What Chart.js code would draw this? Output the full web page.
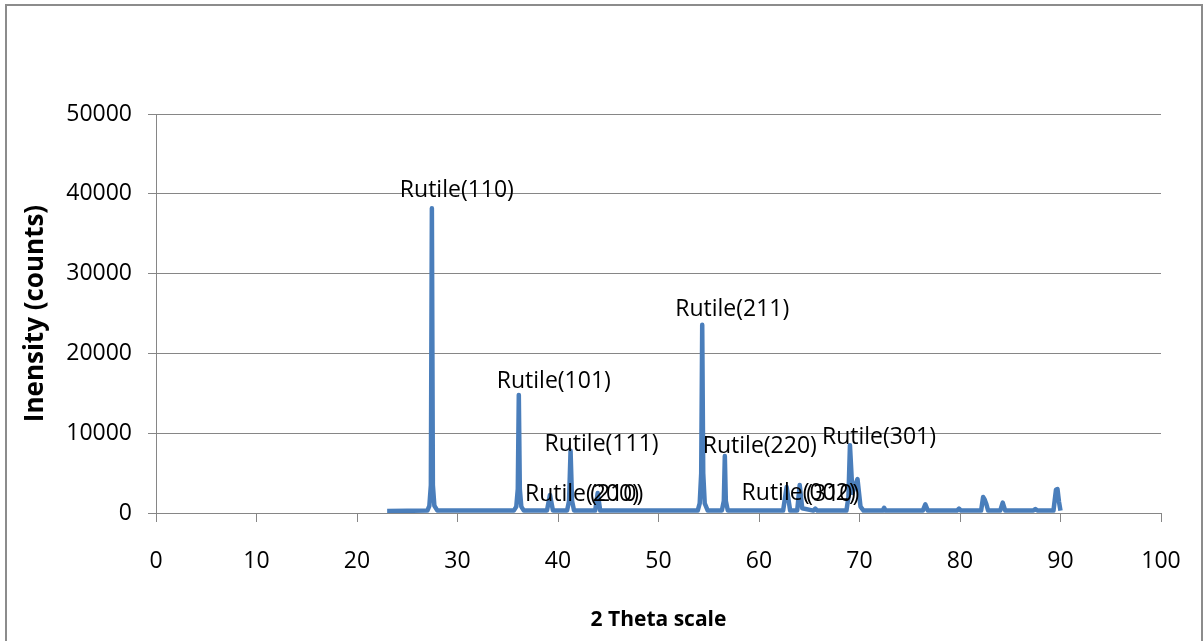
<!DOCTYPE html>
<html>
<head>
<meta charset="utf-8">
<script src="https://cdn.jsdelivr.net/npm/chart.js@4.4.1/dist/chart.umd.min.js"></script>
<style>
  html, body { margin: 0; padding: 0; background: #fff; }
  #wrap { position: relative; width: 1203px; height: 641px; overflow: hidden; }
  #frame { position: absolute; left: 5px; top: 4px; width: 1198px; height: 700px;
           border: 2px solid #8c8c8c; box-sizing: border-box; pointer-events: none; }
</style>
</head>
<body>
<div id="wrap">
  <canvas id="xrd" width="1203" height="641"></canvas>
  <div id="frame"></div>
</div>
<script>
// XRD pattern, 2 theta vs intensity
const twoTheta = [
  23.0, 27.0, 27.2, 27.35, 27.45, 27.55, 27.7, 28.0,
  35.6, 35.85, 36.0, 36.1, 36.2, 36.35, 36.6,
  38.9, 39.2, 39.5,
  40.9, 41.1, 41.25, 41.4, 41.6,
  43.7, 43.95, 44.2,
  53.9, 54.1, 54.25, 54.35, 54.45, 54.6, 54.9,
  56.3, 56.5, 56.6, 56.7, 56.9,
  62.4, 62.75, 63.1,
  63.8, 64.05, 64.3,
  65.4, 65.6, 65.8,
  68.7, 68.9, 69.05, 69.3, 69.8, 70.1, 70.4,
  72.3, 72.45, 72.6,
  76.3, 76.55, 76.8,
  79.7, 79.9, 80.1,
  82.1, 82.3, 82.45, 82.6, 82.8,
  84.0, 84.25, 84.5,
  87.3, 87.5, 87.7,
  89.3, 89.55, 89.7, 89.85, 90.0
];
const counts = [
  250, 300, 900, 3500, 38200, 3500, 900, 300,
  300, 800, 3000, 14800, 3000, 800, 300,
  300, 2250, 300,
  300, 1500, 7800, 1500, 300,
  300, 2500, 300,
  300, 1200, 5000, 23600, 5000, 1200, 300,
  300, 1500, 7150, 1500, 300,
  300, 3250, 300,
  300, 3500, 600,
  300, 550, 300,
  300, 2000, 8500, 2500, 4250, 800, 300,
  300, 650, 300,
  300, 1100, 300,
  300, 550, 300,
  300, 2000, 1700, 1200, 300,
  300, 1300, 300,
  300, 500, 300,
  300, 2900, 3000, 1400, 300
];

const peakLabels = ['Rutile(110)', 'Rutile(101)', 'Rutile(200)', 'Rutile(111)', '(210)',
  'Rutile(211)', 'Rutile(220)', 'Rutile(002)', '(310)', 'Rutile(301)'];
const peakAt = [27.45, 36.1, 39.2, 41.25, 43.95, 54.35, 56.6, 62.75, 64.05, 69.05];
// label nudges in px from the peak top
const labelNudge = [[25, -18], [35, -13], [32, -1], [31, -6], [19, 1],
  [30, -15], [35, -9], [12, 6], [33, 9], [29, -8]];

const xTicks = [0, 10, 20, 30, 40, 50, 60, 70, 80, 90, 100];
const yTicks = [0, 10000, 20000, 30000, 40000, 50000];

const FONT = "'Open Sans', 'Noto Sans', sans-serif";
const GRID = '#868686';

const peakText = {
  id: 'peakText',
  afterDatasetsDraw(chart) {
    const meta = chart.getDatasetMeta(0);
    const ctx = chart.ctx;
    ctx.save();
    ctx.font = '23px ' + FONT;
    ctx.fillStyle = '#000';
    ctx.textAlign = 'center';
    ctx.textBaseline = 'middle';
    peakLabels.forEach((txt, i) => {
      const idx = twoTheta.indexOf(peakAt[i]);
      const pt = meta.data[idx];
      ctx.fillText(txt, pt.x + labelNudge[i][0], pt.y + labelNudge[i][1]);
    });
    ctx.restore();
  }
};

new Chart(document.getElementById('xrd'), {
  type: 'line',
  data: {
    datasets: [{
      label: 'XRD',
      data: twoTheta.map((t, i) => ({ x: t, y: counts[i] })),
      borderColor: '#4A7EBB',
      borderWidth: 4.5,
      pointRadius: 0,
      tension: 0,
      borderJoinStyle: 'round',
      fill: false
    }]
  },
  options: {
    responsive: false,
    animation: false,
    layout: { padding: { left: 0, top: 114, right: 42, bottom: 0 } },
    plugins: { legend: { display: false }, tooltip: { enabled: false } },
    scales: {
      x: {
        type: 'linear',
        min: 0, max: 100,
        afterBuildTicks: s => { s.ticks = xTicks.map(v => ({ value: v })); },
        afterFit: s => { s.height = 128; s.paddingLeft = 0; s.paddingRight = 0; },
        grid: { drawOnChartArea: false, color: GRID, tickLength: 9 },
        border: { color: GRID, width: 1 },
        ticks: { color: '#000', font: { family: FONT, size: 23 }, padding: 26, maxRotation: 0,
                 callback: v => String(v) },
        title: { display: true, text: '2 Theta scale', color: '#000',
                 font: { family: FONT, size: 21, weight: 'bold' }, padding: { top: 0, bottom: 8 } }
      },
      y: {
        min: 0, max: 50000,
        afterBuildTicks: s => { s.ticks = yTicks.map(v => ({ value: v })); },
        afterFit: s => { s.width = 156; },
        grid: { color: GRID, tickLength: 8 },
        border: { color: GRID, width: 1 },
        ticks: { color: '#000', font: { family: FONT, size: 23 }, padding: 16,
                 callback: v => String(v) },
        title: { display: true, text: 'Inensity (counts)', color: '#000',
                 font: { family: FONT, size: 26, weight: 'bold' }, padding: { top: 20, bottom: 0 } }
      }
    }
  },
  plugins: [peakText]
});
</script>
</body>
</html>
